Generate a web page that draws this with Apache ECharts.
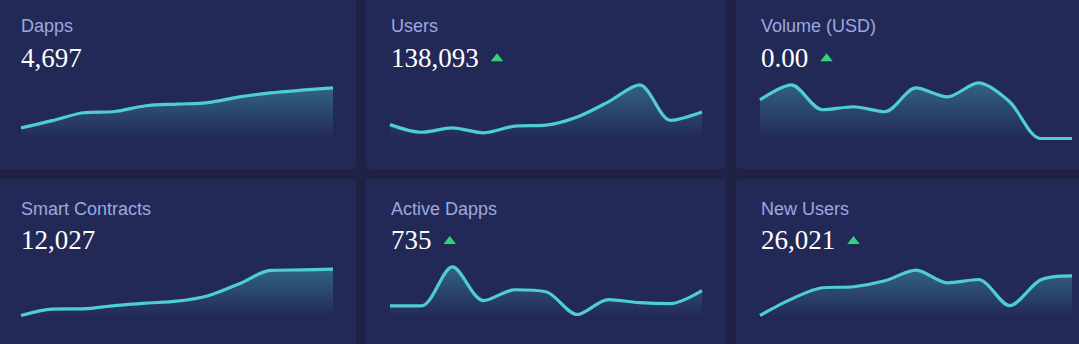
<!DOCTYPE html>
<html><head><meta charset="utf-8">
<script src="https://cdn.jsdelivr.net/npm/echarts@6/dist/echarts.min.js"></script>
<style>html,body{margin:0;padding:0;background:#1f2244;overflow:hidden}#c{width:1079px;height:344px}</style>
</head><body><div id="c"></div>
<script>
// ---- data ----
const days = ['D1','D2','D3','D4','D5','D6','D7','D8','D9','D10','D11'];
const panelTitles = ['Dapps','Users','Volume (USD)','Smart Contracts','Active Dapps','New Users'];
const panelValues = ['4,697','138,093','0.00','12,027','735','26,021'];
const showTrend = [false, true, true, false, true, true];
const dappsSeries     = [10.7, 18, 26, 27.2, 33, 34.7, 36.2, 42, 46, 48.7, 51];
const usersSeries     = [14, 6.3, 10.7, 5.7, 12.5, 13.5, 21.7, 37, 54, 18.3, 26.7];
const volumeSeries    = [39, 54, 29, 32, 27, 51, 42, 56, 37, 0, 0];
const contractsSeries = [1, 7.5, 7.7, 11, 13.5, 15.5, 21, 33, 46.5, 47, 47.7];
const activeSeries    = [10.7, 10.7, 50, 16, 27, 25, 2, 17, 14, 13, 26];
const newUsersSeries  = [1, 17.5, 29, 30, 36, 46.7, 34, 37.3, 11, 37, 41];
const allSeries = [dappsSeries, usersSeries, volumeSeries, contractsSeries, activeSeries, newUsersSeries];

// ---- layout ----
const colRect = [[-6, 362], [366, 360], [736, 349]];
const rowRect = [[-6, 175], [179, 171]];
const gridLeft = [21, 390, 760];
const gridTop = [79, 257];
const gridH = 59.5;
const titleY = [26.1, 208.5];
const valueY = [57.6, 240.2];
const textX = [21, 391, 761];

const LINE = '#4ecdd5';
const chart = echarts.init(document.getElementById('c'), null, {renderer: 'svg'});

const ctx = document.createElement('canvas').getContext('2d');
const valueFont = "27px 'Liberation Serif', 'Times New Roman', serif";
ctx.font = valueFont;

const grids = [], xAxes = [], yAxes = [], series = [], graphics = [];
for (let i = 0; i < 6; i++) {
  const r = Math.floor(i / 3), c = i % 3;
  graphics.push({type: 'rect', z: -10, shape: {x: colRect[c][0], y: rowRect[r][0], width: colRect[c][1], height: rowRect[r][1], r: 4}, style: {fill: '#232957'}});
  graphics.push({type: 'text', z: 10, x: textX[c], y: titleY[r], style: {text: panelTitles[i], font: "18px 'Liberation Sans', Arial, sans-serif", fill: '#9ca8e0', verticalAlign: 'middle'}});
  graphics.push({type: 'text', z: 10, x: textX[c], y: valueY[r], style: {text: panelValues[i], font: valueFont, fill: '#ffffff', verticalAlign: 'middle'}});
  if (showTrend[i]) {
    const tx = textX[c] + ctx.measureText(panelValues[i]).width + 12;
    const cy = r === 0 ? 57.3 : 240;
    graphics.push({type: 'polygon', z: 10, shape: {points: [[tx, cy + 4], [tx + 12.5, cy + 4], [tx + 6.25, cy - 4]]}, style: {fill: '#33d17a'}});
  }
  grids.push({left: gridLeft[c], top: gridTop[r], width: 312, height: gridH, containLabel: false});
  xAxes.push({type: 'category', gridIndex: i, data: days, boundaryGap: false, show: false});
  yAxes.push({type: 'value', gridIndex: i, min: 0, max: 60, show: false});
  series.push({
    type: 'line', xAxisIndex: i, yAxisIndex: i, data: allSeries[i], smooth: 0.3, symbol: 'none', silent: true,
    lineStyle: {color: LINE, width: 3.2},
    areaStyle: {color: new echarts.graphic.LinearGradient(0, 0, 0, 1, [
      {offset: 0, color: 'rgba(78,205,214,0.5)'},
      {offset: 1, color: 'rgba(78,205,214,0)'}])}
  });
}

chart.setOption({
  backgroundColor: '#1f2244',
  animation: false,
  graphic: {elements: graphics},
  grid: grids, xAxis: xAxes, yAxis: yAxes, series: series
});
</script></body></html>
